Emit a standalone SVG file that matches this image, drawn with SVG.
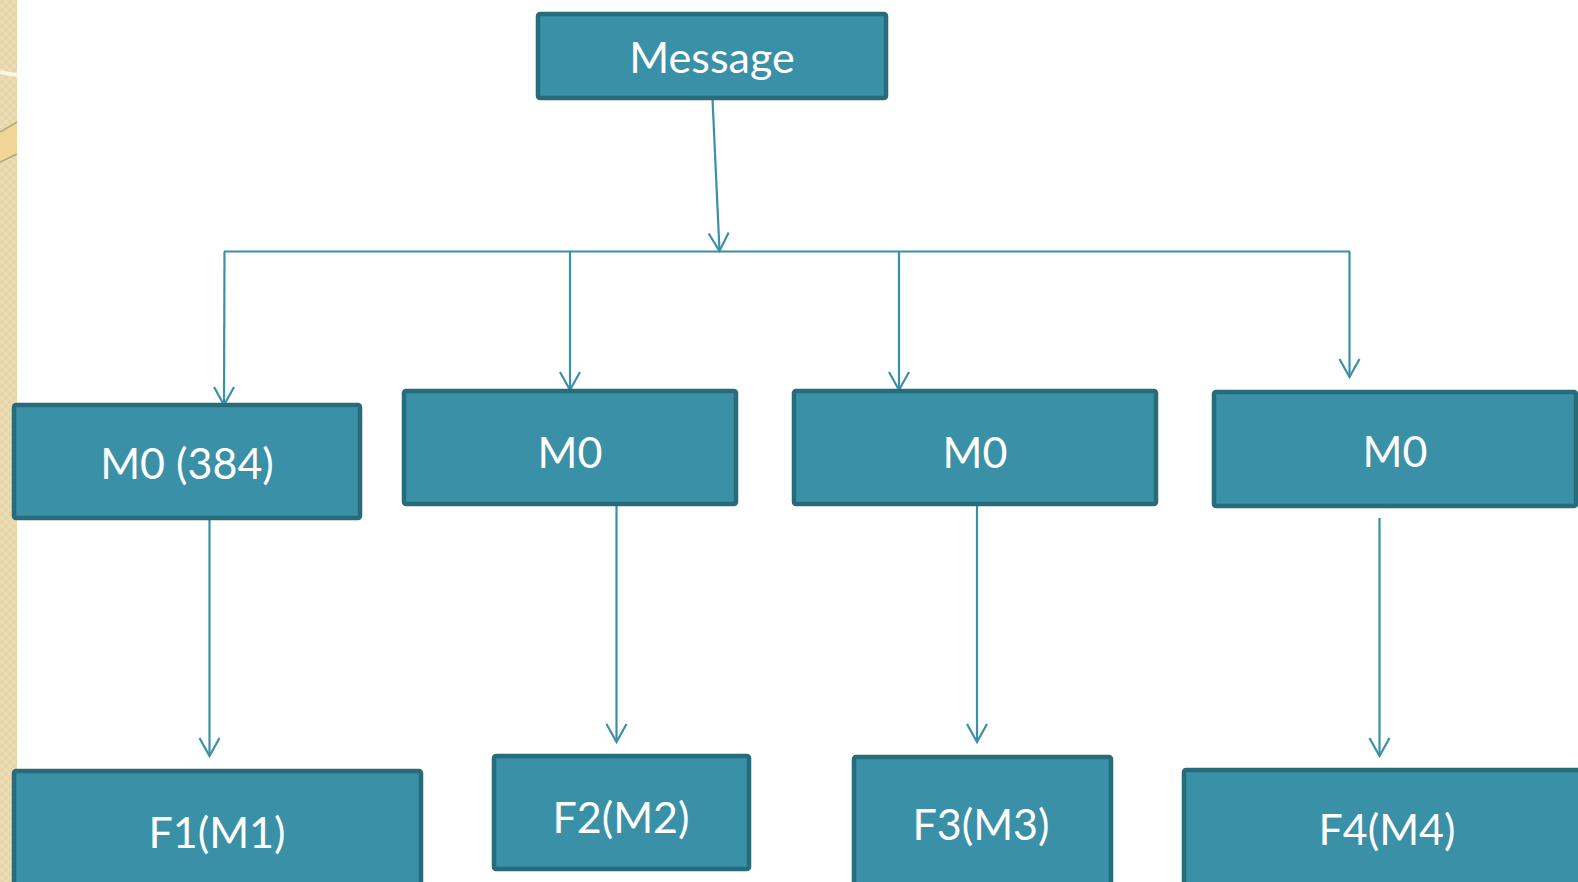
<svg xmlns="http://www.w3.org/2000/svg" width="1578" height="882" viewBox="0 0 1578 882">
<defs>
<style>
.box{fill:#3a90a6;stroke:#286b7b;stroke-width:4.5}
.lbl{font-family:Lato,"Open Sans","Liberation Sans",sans-serif;font-size:43px;fill:#ffffff;text-anchor:middle}
.con{fill:none;stroke:#3a90a6;stroke-width:2.2}
</style>
<marker id="arr" markerUnits="userSpaceOnUse" markerWidth="22" markerHeight="24" viewBox="0 0 22 24" refX="20" refY="12" orient="auto">
<path d="M2,2 L20,12 L2,22" fill="none" stroke="#3a90a6" stroke-width="2.2"/>
</marker>
<pattern id="chk" width="8" height="8" patternUnits="userSpaceOnUse">
<rect width="8" height="8" fill="#eddcb3"/>
<rect width="4" height="4" fill="#e8d6ab"/>
<rect x="4" y="4" width="4" height="4" fill="#e8d6ab"/>
</pattern>
</defs>
<rect width="1578" height="882" fill="#ffffff"/>
<g id="background">
<rect x="0" y="0" width="17" height="882" fill="url(#chk)"/>
<path d="M0,72 Q8,74 17,75" fill="none" stroke="#fdf6e3" stroke-width="4"/>
<path d="M0,132 Q9,127 17,122 L17,154 Q9,158 0,162 Z" fill="#f2d697"/>
<path d="M0,132 Q9,127 17,122" fill="none" stroke="#b8a57c" stroke-width="1.5"/>
<path d="M0,162 Q9,158 17,154" fill="none" stroke="#b8a57c" stroke-width="1.5"/>
</g>
<g id="connectors">
<line class="con" x1="712.5" y1="99" x2="719.5" y2="251" marker-end="url(#arr)"/>
<line class="con" x1="224" y1="251.5" x2="1350" y2="251.5"/>
<line class="con" x1="224.5" y1="251.5" x2="224" y2="405" marker-end="url(#arr)"/>
<line class="con" x1="570" y1="251.5" x2="570" y2="390" marker-end="url(#arr)"/>
<line class="con" x1="899" y1="251.5" x2="899" y2="390" marker-end="url(#arr)"/>
<line class="con" x1="1349.5" y1="251.5" x2="1349.5" y2="377" marker-end="url(#arr)"/>
<line class="con" x1="209.5" y1="520" x2="209.5" y2="756" marker-end="url(#arr)"/>
<line class="con" x1="616.5" y1="505" x2="616.5" y2="742" marker-end="url(#arr)"/>
<line class="con" x1="977" y1="505" x2="977" y2="742" marker-end="url(#arr)"/>
<line class="con" x1="1379.5" y1="518" x2="1379.5" y2="756" marker-end="url(#arr)"/>
</g>
<g id="node-message">
<rect class="box" x="538" y="14" width="348" height="84" rx="2"/>
<text class="lbl" x="712" y="73">Message</text>
</g>
<g id="node-m0-384">
<rect class="box" x="14" y="405" width="346" height="113" rx="2"/>
<text class="lbl" x="187" y="479">M0 (384)</text>
</g>
<g id="node-m0-2">
<rect class="box" x="404" y="391" width="332" height="113" rx="2"/>
<text class="lbl" x="570" y="468">M0</text>
</g>
<g id="node-m0-3">
<rect class="box" x="794" y="391" width="362" height="113" rx="2"/>
<text class="lbl" x="975" y="468">M0</text>
</g>
<g id="node-m0-4">
<rect class="box" x="1214" y="392" width="362" height="114" rx="2"/>
<text class="lbl" x="1395" y="467">M0</text>
</g>
<g id="node-f1">
<rect class="box" x="14" y="771" width="407" height="130" rx="2"/>
<text class="lbl" x="217" y="848">F1(M1)</text>
</g>
<g id="node-f2">
<rect class="box" x="494" y="756" width="255" height="113" rx="2"/>
<text class="lbl" x="621" y="833">F2(M2)</text>
</g>
<g id="node-f3">
<rect class="box" x="854" y="757" width="257" height="140" rx="2"/>
<text class="lbl" x="981" y="840">F3(M3)</text>
</g>
<g id="node-f4">
<rect class="box" x="1184" y="770" width="420" height="130" rx="2"/>
<text class="lbl" x="1387" y="845">F4(M4)</text>
</g>
</svg>
